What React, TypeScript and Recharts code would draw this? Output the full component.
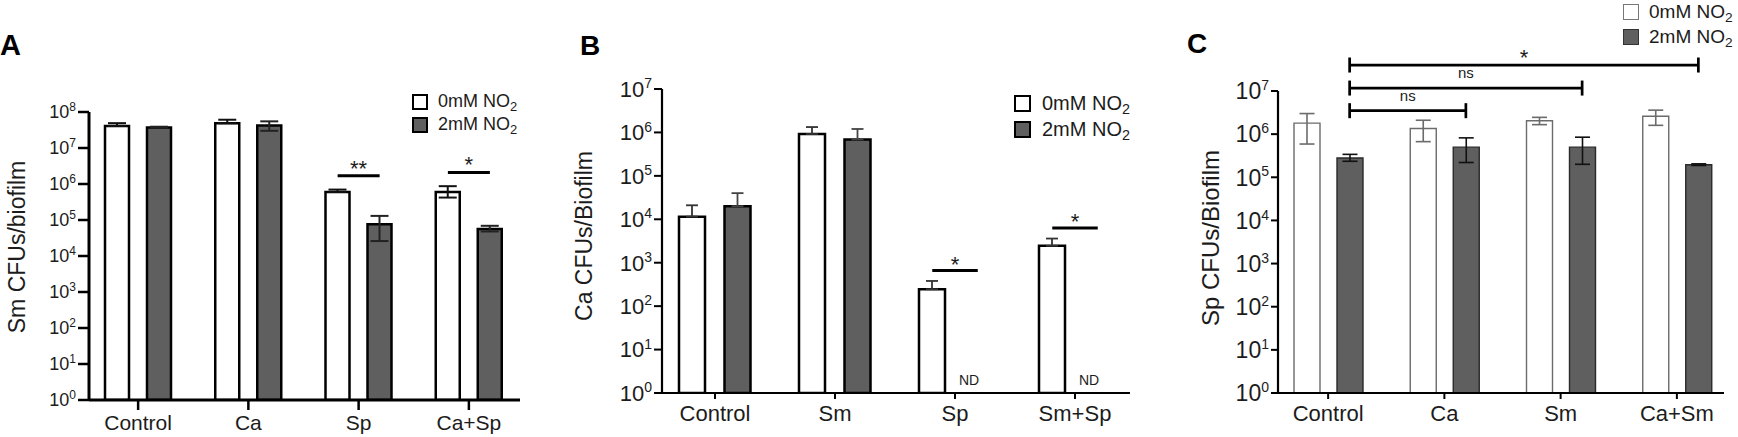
import React from "react";
import { BarChart, Bar, XAxis, YAxis, ErrorBar, Legend, ReferenceLine } from "recharts";

const FONT = '"Liberation Sans", Arial, Helvetica, sans-serif';
const DARK = "#5f5f5f";
const INK = "#1c1c1c";

const legendNames = ["0mM NO2", "2mM NO2"];

// A - Sm CFUs/biofilm
const aCategories = ["Control", "Ca", "Sp", "Ca+Sp"];
const aZeroMean = [4.1e7, 4.9e7, 6.0e5, 6.0e5];
const aZeroHigh = [4.9e7, 6.1e7, 7.0e5, 8.7e5];
const aZeroLow = [4.1e7, 4.9e7, 6.0e5, 4.2e5];
const aTwoMean = [3.7e7, 4.2e7, 7.6e4, 5.6e4];
const aTwoHigh = [3.9e7, 5.5e7, 1.3e5, 6.9e4];
const aTwoLow = [3.7e7, 3.0e7, 2.6e4, 4.8e4];
const aTicks = [1, 1e1, 1e2, 1e3, 1e4, 1e5, 1e6, 1e7, 1e8];
const aSigFrom = ["Sp", "Ca+Sp"];
const aSigTo = ["Sp", "Ca+Sp"];
const aSigLevel = [1.7e6, 2.1e6];
const aSigText = ["**", "*"];

// B - Ca CFUs/Biofilm
const bCategories = ["Control", "Sm", "Sp", "Sm+Sp"];
const bZeroMean = [1.15e4, 9.2e5, 245, 2450];
const bZeroHigh = [2.1e4, 1.33e6, 380, 3600];
const bTwoMean = [2.0e4, 6.9e5, null, null];
const bTwoHigh = [4.0e4, 1.2e6, null, null];
const bTicks = [1, 1e1, 1e2, 1e3, 1e4, 1e5, 1e6, 1e7];
const bSigFrom = ["Sp", "Sm+Sp"];
const bSigTo = ["Sp", "Sm+Sp"];
const bSigLevel = [660, 6300];
const bSigText = ["*", "*"];
const bNotDetected = ["Sp", "Sm+Sp"];
const bNdLevel = 1.55;

// C - Sp CFUs/Biofilm
const cCategories = ["Control", "Ca", "Sm", "Ca+Sm"];
const cZeroMean = [1.8e6, 1.35e6, 2.05e6, 2.6e6];
const cZeroHigh = [3.0e6, 2.1e6, 2.45e6, 3.6e6];
const cZeroLow = [5.9e5, 6.7e5, 1.66e6, 1.6e6];
const cTwoMean = [2.8e5, 5.0e5, 5.0e5, 1.95e5];
const cTwoHigh = [3.4e5, 8.2e5, 8.5e5, 2.05e5];
const cTwoLow = [2.35e5, 2.2e5, 2.0e5, 1.88e5];
const cTicks = [1, 1e1, 1e2, 1e3, 1e4, 1e5, 1e6, 1e7];
const cSigFrom = ["Control", "Control", "Control"];
const cSigTo = ["Ca", "Sm", "Ca+Sm"];
const cSigLevel = [3.5e6, 1.17e7, 4.0e7];
const cSigText = ["ns", "ns", "*"];

function buildRows(cats, zm, zh, zl, tm, th, tl) {
  return cats.map((name, i) => ({
    name,
    zero: zm[i],
    zeroErr: zm[i] == null ? undefined : [zm[i] - zl[i], zh[i] - zm[i]],
    two: tm[i],
    twoErr: tm[i] == null ? undefined : [tm[i] - tl[i], th[i] - tm[i]],
  }));
}

const aRows = buildRows(aCategories, aZeroMean, aZeroHigh, aZeroLow, aTwoMean, aTwoHigh, aTwoLow);
const bRows = buildRows(bCategories, bZeroMean, bZeroHigh, bZeroMean, bTwoMean, bTwoHigh, bTwoMean);
const cRows = buildRows(cCategories, cZeroMean, cZeroHigh, cZeroLow, cTwoMean, cTwoHigh, cTwoLow);

const zip = (from, to, level, text) => from.map((f, i) => ({ from: f, to: to[i], y: level[i], text: text[i] }));

const styleA = {
  left: 0, width: 560, margin: { top: 112, right: 40, bottom: 0, left: 19 },
  yw: 70, xh: 37, pad: { left: -6, right: -4 }, barSize: 24, barGap: 18,
  yFont: 18, ySup: 12, yTick: 11, yMargin: 2, xFont: 21, xTick: 10, xMargin: 5,
  axisW: 3, tickW: 2.5, lightStroke: "#000", darkStroke: "#000", barStroke: 2.5,
  lightErr: "#111", darkErr: "#222", errW: 2, cap: 9,
  title: "Sm CFUs/biofilm", titleFont: 23, titleDx: 6, titleDy: -9,
  legend: { left: 412, top: 90, rowH: 23, sq: 16, bw: 2.5, gap: 10, font: 18, light: "#000", dark: "#000" },
  sig: { shiftA: -21, shiftB: 21, lineW: 3, ends: 0, star: 22, ns: 15, starGap: 0, nsGap: 10 },
};

const styleB = {
  left: 560, width: 600, margin: { top: 89, right: 30, bottom: 0, left: 22 },
  yw: 80, xh: 44, pad: { left: -7, right: -5 }, barSize: 26, barGap: 19.5,
  yFont: 22, ySup: 14, yTick: 8, yMargin: 2, xFont: 22, xTick: 6, xMargin: 6,
  axisW: 2.2, tickW: 2, lightStroke: "#000", darkStroke: "#000", barStroke: 2.5,
  lightErr: "#333", darkErr: "#444", errW: 1.8, cap: 6,
  title: "Ca CFUs/Biofilm", titleFont: 23, titleDx: 10, titleDy: -5,
  legend: { left: 454, top: 90, rowH: 26, sq: 17, bw: 2.5, gap: 11, font: 20, light: "#000", dark: "#000" },
  sig: { shiftA: -22.75, shiftB: 22.75, lineW: 3, ends: 0, star: 22, ns: 15, starGap: -1, nsGap: 10 },
};

const styleC = {
  left: 1160, width: 578, margin: { top: 91, right: 14, bottom: 0, left: 28 },
  yw: 90, xh: 44, pad: { left: -8, right: -11 }, barSize: 26, barGap: 17,
  yFont: 23, ySup: 14, yTick: 7, yMargin: 2, xFont: 22, xTick: 6, xMargin: 6,
  axisW: 2.2, tickW: 2, lightStroke: "#6b6b6b", darkStroke: "#2a2a2a", barStroke: 1.4,
  lightErr: "#6b6b6b", darkErr: "#111", errW: 1.6, cap: 7.5,
  title: "Sp CFUs/Biofilm", titleFont: 24, titleDx: 31, titleDy: -4,
  legend: { left: 463, top: -1, rowH: 25, sq: 16, bw: 1.2, gap: 10, font: 19, light: "#777", dark: "#333" },
  sig: { shiftA: 21.5, shiftB: 21.5, lineW: 2.7, ends: 7.5, star: 22, ns: 15, starGap: 0, nsGap: 10 },
};

const powerTick = (s) => (props) => {
  const { x, y, payload } = props;
  const exp = Math.round(Math.log10(payload.value));
  return (
    <text x={x} y={y} textAnchor="end" fill={INK} fontFamily={FONT} fontSize={s.yFont}>
      <tspan dy={s.yFont * 0.36}>10</tspan>
      <tspan dy={-s.yFont * 0.4} fontSize={s.ySup}>{exp}</tspan>
    </text>
  );
};

const sigShape = (text, s) => (p) => {
  const xa = p.x1 + s.shiftA;
  const xb = p.x2 + s.shiftB;
  const y = p.y1;
  const isNs = text === "ns";
  return (
    <g>
      <line x1={xa} x2={xb} y1={y} y2={y} stroke="#000" strokeWidth={s.lineW} />
      {s.ends ? <line x1={xa} x2={xa} y1={y - s.ends} y2={y + s.ends} stroke="#000" strokeWidth={s.lineW} /> : null}
      {s.ends ? <line x1={xb} x2={xb} y1={y - s.ends} y2={y + s.ends} stroke="#000" strokeWidth={s.lineW} /> : null}
      <text
        x={(xa + xb) / 2}
        y={y - (isNs ? s.nsGap : s.starGap)}
        textAnchor="middle"
        fill={INK}
        fontFamily={FONT}
        fontSize={isNs ? s.ns : s.star}
      >
        {text}
      </text>
    </g>
  );
};

const ndShape = (p) => (
  <text x={p.x1 + 14} y={p.y1} textAnchor="middle" fill={INK} fontFamily={FONT} fontSize={14}>
    ND
  </text>
);

const legendContent = (l) => (props) => (
  <div style={{ fontFamily: FONT, fontSize: l.font, color: INK }}>
    {(props.payload || []).map((entry, i) => {
      const label = String(entry.value);
      return (
        <div key={label} style={{ display: "flex", alignItems: "center", height: l.rowH, whiteSpace: "nowrap" }}>
          <span
            style={{
              width: l.sq,
              height: l.sq,
              boxSizing: "border-box",
              border: `${l.bw}px solid ${i ? l.dark : l.light}`,
              background: i ? DARK : "#fff",
              marginRight: l.gap,
              flex: "none",
            }}
          />
          <span>
            {label.slice(0, -1)}
            <sub style={{ fontSize: "0.72em", verticalAlign: "-0.3em", lineHeight: 0 }}>{label.slice(-1)}</sub>
          </span>
        </div>
      );
    })}
  </div>
);

function Panel({ s, rows, ticks, sig, nd }) {
  const top = ticks[ticks.length - 1];
  return (
    <div style={{ position: "absolute", left: s.left, top: 0 }}>
      <BarChart width={s.width} height={437} data={rows} margin={s.margin} barSize={s.barSize} barGap={s.barGap}>
        <XAxis
          dataKey="name"
          height={s.xh}
          padding={s.pad}
          interval={0}
          tickSize={s.xTick}
          tickMargin={s.xMargin}
          tick={{ fill: INK, fontSize: s.xFont, fontFamily: FONT }}
          axisLine={{ stroke: "#000", strokeWidth: s.axisW }}
          tickLine={{ stroke: "#000", strokeWidth: s.tickW }}
        />
        <YAxis
          type="number"
          scale="log"
          domain={[1, top]}
          ticks={ticks}
          interval={0}
          allowDataOverflow
          width={s.yw}
          tickSize={s.yTick}
          tickMargin={s.yMargin}
          tick={powerTick(s)}
          axisLine={{ stroke: "#000", strokeWidth: s.axisW }}
          tickLine={{ stroke: "#000", strokeWidth: s.tickW }}
          label={{
            content: (lp) => {
              const vb = lp.viewBox || { x: 0, y: 0, width: 0, height: 0 };
              const tx = vb.x + s.titleDx;
              const ty = vb.y + vb.height / 2 + s.titleDy;
              return (
                <text
                  transform={`translate(${tx},${ty}) rotate(-90)`}
                  textAnchor="middle"
                  fill={INK}
                  fontFamily={FONT}
                  fontSize={s.titleFont}
                >
                  {s.title}
                </text>
              );
            },
          }}
        />
        <Legend
          layout="vertical"
          align="center"
          verticalAlign="middle"
          wrapperStyle={{ left: s.legend.left, top: s.legend.top, width: 180 }}
          content={legendContent(s.legend)}
        />
        <Bar
          dataKey="zero"
          name={legendNames[0]}
          fill="#fff"
          stroke={s.lightStroke}
          strokeWidth={s.barStroke}
          isAnimationActive={false}
        >
          <ErrorBar
            dataKey="zeroErr"
            direction="y"
            width={s.cap}
            stroke={s.lightErr}
            strokeWidth={s.errW}
            isAnimationActive={false}
          />
        </Bar>
        <Bar
          dataKey="two"
          name={legendNames[1]}
          fill={DARK}
          stroke={s.darkStroke}
          strokeWidth={s.barStroke}
          isAnimationActive={false}
        >
          <ErrorBar
            dataKey="twoErr"
            direction="y"
            width={s.cap}
            stroke={s.darkErr}
            strokeWidth={s.errW}
            isAnimationActive={false}
          />
        </Bar>
        {sig.map((g) => (
          <ReferenceLine
            key={`${g.from}-${g.to}-${g.y}`}
            segment={[
              { x: g.from, y: g.y },
              { x: g.to, y: g.y },
            ]}
            ifOverflow="visible"
            shape={sigShape(g.text, s.sig)}
          />
        ))}
        {(nd || []).map((c) => (
          <ReferenceLine
            key={`nd-${c}`}
            segment={[
              { x: c, y: bNdLevel },
              { x: c, y: bNdLevel },
            ]}
            ifOverflow="visible"
            shape={ndShape}
          />
        ))}
      </BarChart>
    </div>
  );
}

export default function App() {
  return (
    <div
      style={{
        position: "absolute",
        left: 0,
        top: 0,
        width: 1738,
        height: 437,
        overflow: "hidden",
        background: "#fff",
        fontFamily: FONT,
      }}
    >
      <Panel s={styleA} rows={aRows} ticks={aTicks} sig={zip(aSigFrom, aSigTo, aSigLevel, aSigText)} />
      <Panel
        s={styleB}
        rows={bRows}
        ticks={bTicks}
        sig={zip(bSigFrom, bSigTo, bSigLevel, bSigText)}
        nd={bNotDetected}
      />
      <Panel s={styleC} rows={cRows} ticks={cTicks} sig={zip(cSigFrom, cSigTo, cSigLevel, cSigText)} />
      <svg
        width={1738}
        height={437}
        style={{ position: "absolute", left: 0, top: 0, pointerEvents: "none" }}
      >
        <text x={0} y={55} fontFamily={FONT} fontWeight="bold" fontSize={29} fill="#000">
          A
        </text>
        <text x={580} y={55} fontFamily={FONT} fontWeight="bold" fontSize={28} fill="#000">
          B
        </text>
        <text x={1187} y={53} fontFamily={FONT} fontWeight="bold" fontSize={28} fill="#000">
          C
        </text>
      </svg>
    </div>
  );
}
